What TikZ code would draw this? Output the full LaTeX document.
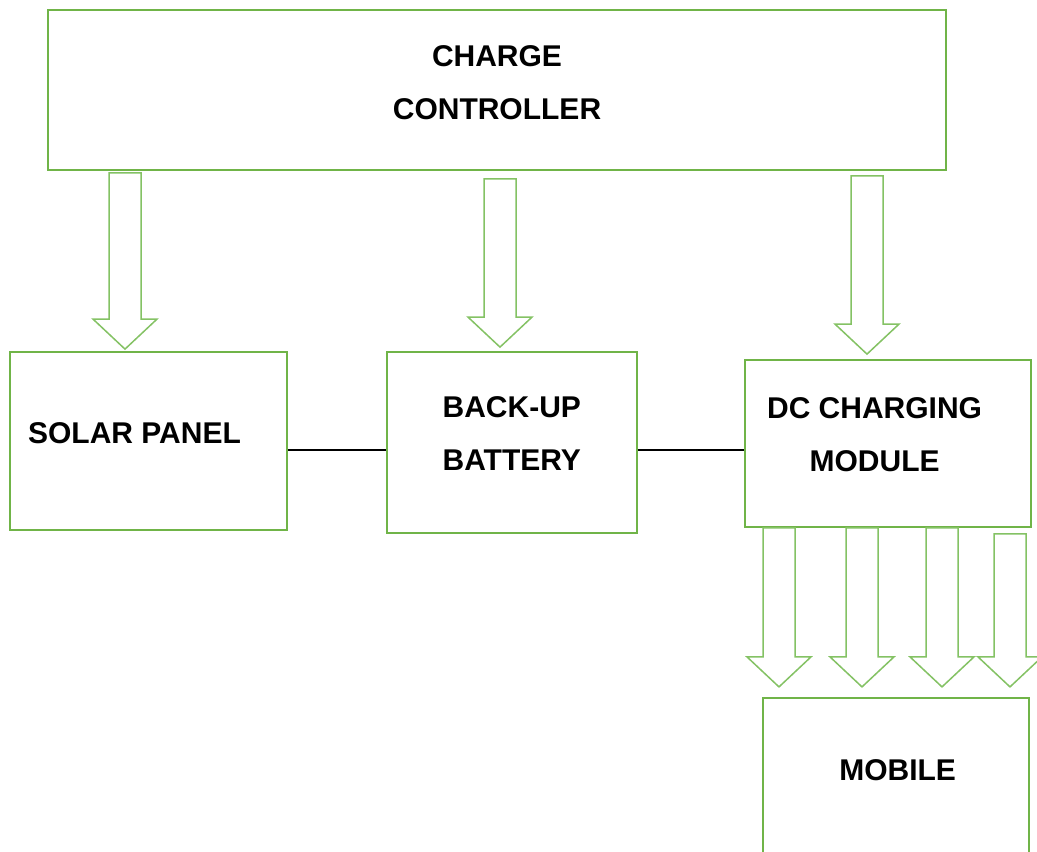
\documentclass[tikz,border=0pt]{standalone}
\usepackage{fontspec}
\setmainfont{Liberation Sans}
\usepackage{xcolor}
\usetikzlibrary{positioning, calc}

\definecolor{boxgreen}{RGB}{112,180,72}
\definecolor{arrowgreen}{RGB}{132,194,100}

\newcommand{\blockarrow}[5]{%
    \draw [flow] let \p1=(#1.south), \p2=(#2.north) in
        (#3-16,\y1-#4) -- (#3+16,\y1-#4) -- (#3+16,\y2+#5+30) -- (#3+32,\y2+#5+30)
        -- (#3,\y2+#5) -- (#3-32,\y2+#5+30) -- (#3-16,\y2+#5+30) -- cycle;}

\begin{document}
\begin{tikzpicture}[
    x=1pt, y=1pt,
    box/.style={rectangle, draw=boxgreen, line width=1.8pt, fill=white},
    txt/.style={align=center, inner sep=0pt, font=\bfseries\fontsize{30}{53}\selectfont},
    flow/.style={draw=arrowgreen, line width=1.5pt, fill=white, line join=miter},
    wire/.style={draw=black, line width=1.2pt}
]
    \useasboundingbox (0,0) rectangle (1037,-852);

    \node [box, minimum width=898pt, minimum height=160pt, label={[txt, yshift=7pt]center:CHARGE\\CONTROLLER}] (ctrl) at (497,-90) {};
    \node [box, minimum width=277pt, minimum height=178pt, label={[txt, shift={(-14,8)}]center:SOLAR PANEL}] (solar) at (148.5,-441) {};
    \node [box, minimum width=250pt, minimum height=181pt, right=98pt of solar.north east, anchor=north west, label={[txt, shift={(0,9)}]center:BACK-UP\\BATTERY}] (battery) {};
    \node [box, minimum width=286pt, minimum height=167pt, right=106pt of battery.north east, anchor=north west, yshift=-8pt, label={[txt, shift={(-13,9)}]center:DC CHARGING\\MODULE}] (dc) {};
    \node [box, minimum width=266pt, minimum height=190pt, below=169pt of dc.south, anchor=north, xshift=8pt, label={[txt, shift={(2,23)}]center:MOBILE}] (mobile) {};

    \coordinate (w1) at ([yshift=-9pt]solar.east);
    \coordinate (w2) at ([yshift=-7.5pt]battery.east);
    \draw [wire] (w1) -- (w1 -| battery.west);
    \draw [wire] (w2) -- (w2 -| dc.west);

    \blockarrow{ctrl}{solar}{125}{2}{2}
    \blockarrow{ctrl}{battery}{500}{8}{4}
    \blockarrow{ctrl}{dc}{867}{5}{5}
    \foreach \ax/\gp in {779/0, 862/0, 942/0, 1010/6}
        {\blockarrow{dc}{mobile}{\ax}{\gp}{10}}
\end{tikzpicture}
\end{document}
